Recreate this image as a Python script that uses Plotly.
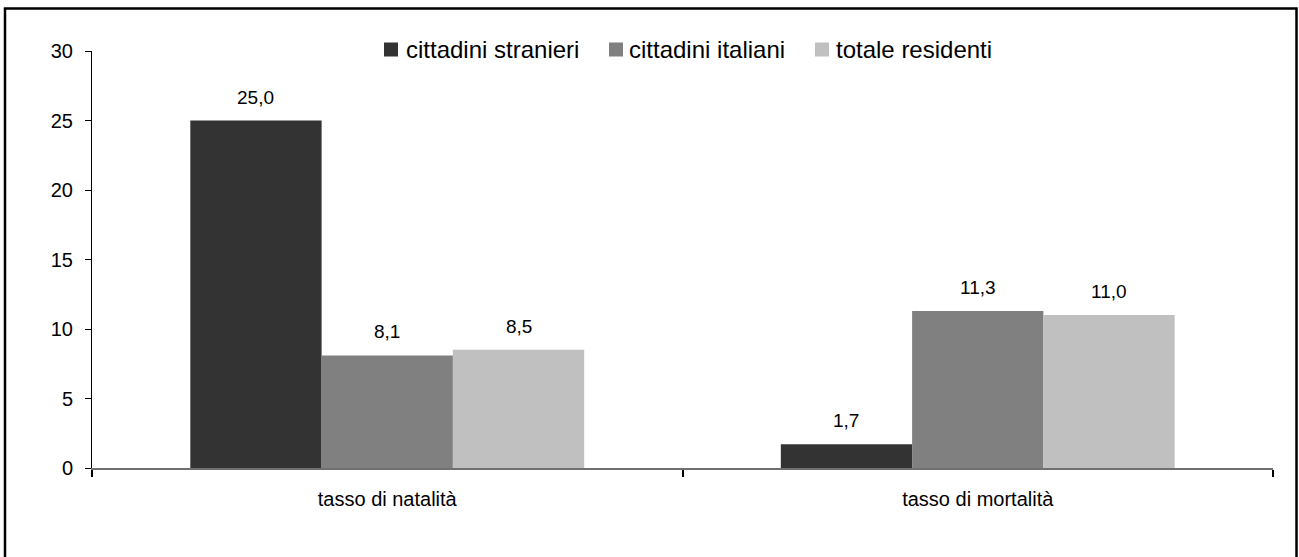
import plotly.graph_objects as go

categories = ["tasso di natalità", "tasso di mortalità"]
series_names = ["cittadini stranieri", "cittadini italiani", "totale residenti"]
stranieri = [25.0, 1.7]
italiani = [8.1, 11.3]
totale = [8.5, 11.0]
y_ticks = [0, 5, 10, 15, 20, 25, 30]

colors = ["#333333", "#808080", "#C0C0C0"]
FONT = "Liberation Sans, Arial, sans-serif"

W, H = 1299, 557
L, R, T, B = 92, 26, 51, 89
BARGAP = 0.333

pw = W - L - R
ph = H - T - B
def px_x(x):
    return (x - L) / pw
def px_y(y):
    return (H - B - y) / ph

fig = go.Figure()
all_vals = [stranieri, italiani, totale]
for name, vals, col in zip(series_names, all_vals, colors):
    fig.add_trace(go.Bar(
        x=categories, y=vals, name=name,
        marker=dict(color=col, line=dict(width=0)),
        showlegend=False,
    ))

# value labels above bars, positioned from the group geometry
bw = (1 - BARGAP) / len(all_vals)
annotations = []
for s, vals in enumerate(all_vals):
    off = (s - (len(all_vals) - 1) / 2) * bw
    for i, v in enumerate(vals):
        annotations.append(dict(
            x=i + off, y=v, xref="x", yref="y", text=f"{v:.1f}".replace(".", ","),
            showarrow=False, yanchor="bottom", xanchor="center", yshift=11,
            font=dict(family=FONT, size=19, color="#000000")))

# manual legend (box + label)
leg_box_x = [384, 609, 815]
leg_txt_x = [404, 627, 834]
leg_y = 49.5
shapes = []
for name, col, bx, tx in zip(series_names, colors, leg_box_x, leg_txt_x):
    shapes.append(dict(type="rect", xref="paper", yref="paper",
                       x0=px_x(bx), x1=px_x(bx + 14), y0=px_y(leg_y + 7), y1=px_y(leg_y - 7),
                       fillcolor=col, line=dict(width=0)))
    annotations.append(dict(x=px_x(tx), y=px_y(leg_y), xref="paper", yref="paper",
                            text=name, showarrow=False, xanchor="left", yanchor="middle",
                            font=dict(family=FONT, size=24, color="#000000")))

shapes.append(dict(type="rect", xref="paper", yref="paper",
                   x0=px_x(5), x1=px_x(1296.5), y0=px_y(560), y1=px_y(8.5),
                   line=dict(color="#000000", width=2.5), fillcolor="rgba(0,0,0,0)", layer="below"))

fig.update_layout(
    width=W, height=H,
    margin=dict(l=L, r=R, t=T, b=B),
    paper_bgcolor="white", plot_bgcolor="white",
    barmode="group", bargap=BARGAP, bargroupgap=0,
    font=dict(family=FONT, size=19, color="#000000"),
    showlegend=False,
    shapes=shapes,
    annotations=annotations,
    xaxis=dict(type="category", showline=True, linecolor="#707070", linewidth=2,
               ticks="outside", tickson="boundaries", ticklen=7, tickcolor="#000000", tickwidth=2,
               showgrid=False, zeroline=False, ticklabelstandoff=12,
               tickfont=dict(family=FONT, size=20, color="#000000")),
    yaxis=dict(range=[0, 30], tickvals=y_ticks, ticktext=[str(v) for v in y_ticks],
               showline=True, linecolor="#000000", linewidth=1,
               ticks="outside", ticklen=6, tickcolor="#000000", tickwidth=1,
               showgrid=False, zeroline=False, ticklabelstandoff=8,
               tickfont=dict(family=FONT, size=20, color="#000000")),
)

fig.write_html("out.html", config={"displayModeBar": False},
               post_script="document.body.style.margin='0px';")
